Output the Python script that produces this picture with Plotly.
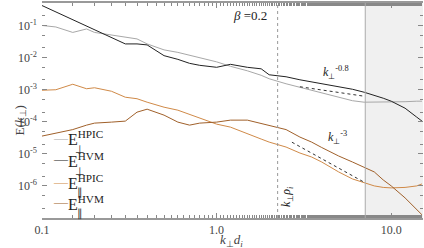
import plotly.graph_objects as go

# wavenumber grid k_perp d_i
k = [0.1, 0.12, 0.15, 0.18, 0.2, 0.25, 0.3, 0.35, 0.4, 0.5, 0.6, 0.7, 0.8, 1.0, 1.2, 1.5,
     1.8, 2.0, 2.5, 3.0, 3.5, 4.0, 5.0, 6.0, 7.0, 8.0, 9.0, 10.0, 12.0, 14.0, 15.0]

# log10 of spectra
log_perp_hpic = [-1.0, -1.047, -1.217, -1.109, -1.217, -1.295, -1.373, -1.419, -1.575, -1.761,
                 -1.839, -1.932, -2.009, -2.134, -2.273, -2.413, -2.553, -2.661, -2.817, -2.925,
                 -3.019, -3.112, -3.252, -3.345, -3.391, -3.391, -3.391, -3.391, -3.376, -3.360, -3.360]
log_perp_hvm = [-0.379, -0.581, -0.826, -1.028, -1.146, -1.391, -1.575, -1.575, -1.606, -1.941,
                -2.056, -2.180, -2.242, -2.304, -2.211, -2.304, -2.351, -2.537, -2.599, -2.693,
                -2.755, -2.817, -2.894, -2.988, -3.081, -3.174, -3.267, -3.360, -3.578, -3.857, -3.981]
log_par_hpic = [-3.019, -3.003, -2.832, -2.972, -2.941, -3.050, -3.236, -3.283, -3.391, -3.547,
                -3.640, -3.764, -3.888, -4.075, -4.168, -4.385, -4.540, -4.634, -4.789, -4.975,
                -5.099, -5.255, -5.565, -5.783, -5.907, -6.0, -6.047, -6.062, -6.047, -6.0, -5.938]
log_par_hvm = [-4.447, -4.354, -4.245, -4.106, -4.043, -4.012, -3.981, -3.702, -3.609, -3.795,
               -4.012, -4.106, -4.043, -4.012, -3.950, -3.950, -4.059, -4.106, -4.245, -4.478,
               -4.634, -4.804, -5.068, -5.255, -5.410, -5.565, -5.814, -6.0, -6.373, -6.745, -6.9]

E_perp_hpic = [10 ** v for v in log_perp_hpic]
E_perp_hvm = [10 ** v for v in log_perp_hvm]
E_par_hpic = [10 ** v for v in log_par_hpic]
E_par_hvm = [10 ** v for v in log_par_hvm]

# power-law guide lines (endpoints)
fit08_k = [3.0, 7.0]
fit08_E = [1.23e-3, 6.24e-4]
fit3_k = [2.7, 6.9]
fit3_E = [2.3e-5, 1.36e-6]

K_RHO_I = 2.236
SHADE_START = 7.1
X_RANGE_LOG = [-1, 1.182]
Y_RANGE_LOG = [-7, -0.3]

y_tickvals = [1e-1, 1e-2, 1e-3, 1e-4, 1e-5, 1e-6]
y_ticktext = ["10<sup>-1</sup>", "10<sup>-2</sup>", "10<sup>-3</sup>", "10<sup>-4</sup>",
              "10<sup>-5</sup>", "10<sup>-6</sup>"]
x_tickvals = [0.1, 1.0, 10.0]
x_ticktext = ["0.1", "1.0", "10.0"]

series_names = ["HPIC", "HVM", "HPIC", "HVM"]
series_subs = ["⊥", "⊥", "∥", "∥"]

C_PERP_HPIC = "#a8a8a8"
C_PERP_HVM = "#222222"
C_PAR_HPIC = "#d08a48"
C_PAR_HVM = "#a0602a"
colors = [C_PERP_HPIC, C_PERP_HVM, C_PAR_HPIC, C_PAR_HVM]
SERIF = "Liberation Serif, Times New Roman, serif"

fig = go.Figure()
for yy, c, nm, sb in zip([E_perp_hpic, E_perp_hvm, E_par_hpic, E_par_hvm], colors, series_names, series_subs):
    fig.add_trace(go.Scatter(x=k, y=yy, mode="lines", line=dict(color=c, width=1),
                             name=f"E{sb} {nm}", showlegend=False, hoverinfo="skip"))
fig.add_trace(go.Scatter(x=fit08_k, y=fit08_E, mode="lines", showlegend=False, hoverinfo="skip",
                         line=dict(color="#333", width=1, dash="dot")))
fig.add_trace(go.Scatter(x=fit3_k, y=fit3_E, mode="lines", showlegend=False, hoverinfo="skip",
                         line=dict(color="#333", width=1, dash="dot")))

fig.add_shape(type="rect", xref="x", yref="paper", x0=SHADE_START, x1=10 ** X_RANGE_LOG[1],
              y0=0, y1=1, fillcolor="#f0f0f0", line=dict(width=0), layer="below")
fig.add_shape(type="line", xref="x", yref="paper", x0=SHADE_START, x1=SHADE_START, y0=0, y1=1,
              line=dict(color="#aaaaaa", width=1))
fig.add_shape(type="line", xref="x", yref="paper", x0=K_RHO_I, x1=K_RHO_I, y0=0, y1=1,
              line=dict(color="#999999", width=1, dash="dot"))

txt_font = dict(family=SERIF, size=13, color="#222")
fig.add_annotation(x=0.192, y=-0.69, xref="x", yref="y", text="<i>β</i> =0.2", showarrow=False,
                   font=txt_font)
fig.add_annotation(x=0.685, y=-2.46, xref="x", yref="y", text="<i>k</i><sub>⊥</sub><sup>-0.8</sup>",
                   showarrow=False, font=dict(family=SERIF, size=12, color="#222"))
fig.add_annotation(x=0.691, y=-4.478, xref="x", yref="y", text="<i>k</i><sub>⊥</sub><sup>-3</sup>",
                   showarrow=False, font=dict(family=SERIF, size=12, color="#222"))
fig.add_annotation(x=0.404, y=-6.34, xref="x", yref="y",
                   text="<i>k</i><sub>⊥</sub><i>ρ</i><sub><i>i</i></sub>",
                   showarrow=False, textangle=-90, font=dict(family=SERIF, size=12, color="#222"))

# axis titles
fig.add_annotation(x=0.498, y=-0.104, xref="paper", yref="paper", yanchor="middle",
                   text="<i>k</i><sub>⊥</sub><i>d</i><sub><i>i</i></sub>", showarrow=False,
                   font=dict(family=SERIF, size=13, color="#444"))
fig.add_annotation(x=-0.084, y=0.456, xref="paper", yref="paper", textangle=-90,
                   text="E(<i>k</i><sub>⊥</sub>)", showarrow=False,
                   font=dict(family=SERIF, size=13, color="#444"))

# legend drawn as text rows: line sample, symbol with superscript, stacked subscript
legend_y = [0.372, 0.270, 0.167, 0.070]
for ly, c, nm, sb in zip(legend_y, colors, series_names, series_subs):
    fig.add_annotation(x=0.024, y=ly, xref="paper", yref="paper", xanchor="left", yanchor="middle",
                       text="—", showarrow=False, font=dict(family=SERIF, size=14, color=c))
    fig.add_annotation(x=0.062, y=ly, xref="paper", yref="paper", xanchor="left", yanchor="middle",
                       text=f"E<sup>{nm}</sup>", showarrow=False,
                       font=dict(family=SERIF, size=16, color="#222"))
    fig.add_annotation(x=0.100, y=ly - 0.05, xref="paper", yref="paper", xanchor="center",
                       yanchor="middle", text=sb, showarrow=False,
                       font=dict(family=SERIF, size=11, color="#333"))

fig.update_xaxes(type="log", range=X_RANGE_LOG, tickvals=x_tickvals, ticktext=x_ticktext,
                 ticks="inside", ticklen=5, tickcolor="#888", showline=True, linecolor="#999",
                 linewidth=2, mirror="ticks", showgrid=False, zeroline=False, automargin=False,
                 minor=dict(ticks="inside", ticklen=3, tickcolor="#888", showgrid=False),
                 tickfont=dict(family=SERIF, size=12, color="#444"))
fig.update_yaxes(type="log", range=Y_RANGE_LOG, tickvals=y_tickvals, ticktext=y_ticktext,
                 ticks="inside", ticklen=5, tickcolor="#888", showline=False,
                 mirror="ticks", showgrid=False, zeroline=False, automargin=False,
                 ticklabelstandoff=4,
                 minor=dict(ticks="inside", ticklen=3, tickcolor="#888", showgrid=False),
                 tickfont=dict(family=SERIF, size=12, color="#444"))

fig.update_layout(width=424, height=248, margin=dict(l=42, r=1, t=3, b=30),
                  paper_bgcolor="white", plot_bgcolor="white", showlegend=False,
                  hovermode=False)
fig.write_html("out.html", config={"displayModeBar": False},
               post_script="document.body.style.margin='0';")
